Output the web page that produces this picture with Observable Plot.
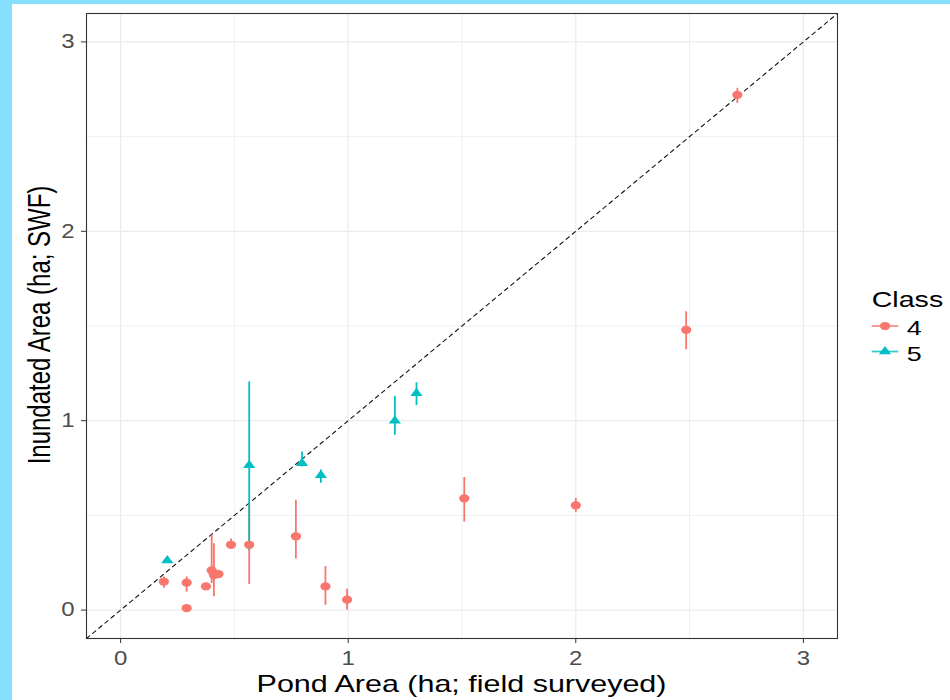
<!DOCTYPE html>
<html><head><meta charset="utf-8">
<script src="https://cdn.jsdelivr.net/npm/d3@7"></script>
<script src="https://cdn.jsdelivr.net/npm/@observablehq/plot@0.6"></script>
<style>
html,body{margin:0;padding:0;}
body{width:950px;height:700px;background:#86DFFE;position:relative;overflow:hidden;font-family:"Liberation Sans",Arial,sans-serif;}
#card{position:absolute;left:12px;top:4px;width:938px;height:696px;background:#fff;}
#chart{position:absolute;left:0;top:0;}
#overlay{position:absolute;left:0;top:0;pointer-events:none;}
</style>
</head><body>
<div id="card"><div id="chart"></div><svg id="overlay" width="938" height="696"></svg></div>
<script>
// ---- data ----
const axisLimits = [-0.15, 3.15];
const majorTicks = [0, 1, 2, 3];
const minorTicks = [0.5, 1.5, 2.5];
const xTitle = "Pond Area (ha; field surveyed)";
const yTitle = "Inundated Area (ha; SWF)";
const legendTitle = "Class";
const classes = ["4", "5"];
const classColors = ["#F8766D", "#00BFC4"];

const class4X  = [0.19, 0.29, 0.29, 0.375, 0.40, 0.41, 0.43, 0.485, 0.565, 0.77, 0.90, 0.995, 1.51, 2.00, 2.485, 2.71];
const class4Y  = [0.150, 0.145, 0.010, 0.125, 0.210, 0.185, 0.190, 0.345, 0.345, 0.390, 0.125, 0.055, 0.590, 0.553, 1.480, 2.720];
const class4Lo = [0.115, 0.095, 0.000, 0.110, 0.140, 0.070, 0.170, 0.320, 0.135, 0.270, 0.025, 0.000, 0.465, 0.515, 1.375, 2.675];
const class4Hi = [0.175, 0.175, 0.020, 0.140, 0.395, 0.350, 0.210, 0.375, 0.550, 0.580, 0.230, 0.110, 0.700, 0.590, 1.575, 2.755];

const class5X  = [0.205, 0.565, 0.797, 0.88, 1.205, 1.30];
const class5Y  = [0.262, 0.765, 0.775, 0.712, 1.000, 1.145];
const class5Lo = [0.255, 0.315, 0.755, 0.670, 0.923, 1.080];
const class5Hi = [0.270, 1.205, 0.835, 0.740, 1.128, 1.200];

const toRows = (xs, ys, lo, hi, cls) => xs.map((x, i) => ({x, y: ys[i], lo: lo[i], hi: hi[i], cls}));
const rows4 = toRows(class4X, class4Y, class4Lo, class4Hi, "4");
const rows5 = toRows(class5X, class5Y, class5Lo, class5Hi, "5");
const allRows = rows4.concat(rows5);

const plot = Plot.plot({
  width: 938,
  height: 696,
  marginLeft: 74,
  marginRight: 113,
  marginTop: 9,
  marginBottom: 62,
  style: {fontFamily: '"Liberation Sans", Arial, sans-serif', color: "#333", background: "transparent"},
  x: {domain: axisLimits},
  y: {domain: axisLimits},
  color: {domain: classes, range: classColors},
  marks: [
    Plot.gridX(minorTicks, {stroke: "#EBEBEB", strokeOpacity: 1, strokeWidth: 0.8}),
    Plot.gridY(minorTicks, {stroke: "#EBEBEB", strokeOpacity: 1, strokeWidth: 0.8}),
    Plot.gridX(majorTicks, {stroke: "#EBEBEB", strokeOpacity: 1, strokeWidth: 1.2}),
    Plot.gridY(majorTicks, {stroke: "#EBEBEB", strokeOpacity: 1, strokeWidth: 1.2}),
    Plot.line(axisLimits, {x: d => d, y: d => d, stroke: "#111", strokeWidth: 1.1, strokeDasharray: "4,4"}),
    Plot.ruleX(allRows, {x: "x", y1: "lo", y2: "hi", stroke: "cls", strokeWidth: 1.8}),
    Plot.dot(rows4, {x: "x", y: "y", fill: "cls", r: 4.1, symbol: "circle"}),
    Plot.dot(rows5, {x: "x", y: "y", fill: "cls", r: 3.5, symbol: "triangle"}),
    Plot.frame({stroke: "#333", strokeWidth: 1.1}),
    Plot.axisX({ticks: majorTicks, tickSize: 5, tickPadding: 7, fontSize: 20, fill: "#4D4D4D", label: null, tickFormat: d3.format("d")}),
    Plot.axisY({ticks: majorTicks, tickSize: 5, tickPadding: 7, fontSize: 20, fill: "#4D4D4D", label: null, tickFormat: d3.format("d")})
  ]
});
document.getElementById("chart").appendChild(plot);

// the reference is horizontally stretched: widen glyphs and point symbols to match
plot.querySelectorAll('g[aria-label="x-axis tick label"] text, g[aria-label="y-axis tick label"] text').forEach(t => {
  const tr = t.getAttribute("transform") || "";
  t.setAttribute("transform", tr + " scale(1.2,1)");
});
plot.querySelectorAll('g[aria-label="dot"] circle').forEach(c => {
  const cx = +c.getAttribute("cx") || 0, cy = +c.getAttribute("cy") || 0;
  const tr = c.getAttribute("transform") || "";
  c.setAttribute("transform", `${tr} translate(${cx},${cy}) scale(1.25,1) translate(${-cx},${-cy})`);
});
plot.querySelectorAll('g[aria-label="dot"] path').forEach(p => {
  const tr = p.getAttribute("transform") || "";
  p.setAttribute("transform", tr + " scale(1.3,1)");
});

// ---- axis titles and legend ----
const ov = d3.select("#overlay");
ov.append("text").text(xTitle)
  .attr("transform", "translate(449.5,687.7) scale(1.27,1)")
  .attr("text-anchor", "middle").attr("font-size", 24).attr("fill", "#000");
ov.append("text").text(yTitle)
  .attr("transform", "translate(38,321) scale(1.27,1) rotate(-90)")
  .attr("text-anchor", "middle").attr("font-size", 24).attr("fill", "#000");

ov.append("text").text(legendTitle)
  .attr("transform", "translate(859.7,302.7) scale(1.3,1)")
  .attr("font-size", 22).attr("fill", "#000");
const keyY = [322, 347.5];
classes.forEach((c, i) => {
  const g = ov.append("g").attr("transform", `translate(0,${keyY[i]})`);
  g.append("line").attr("x1", 859.7).attr("x2", 886.3).attr("y1", 0).attr("y2", 0)
    .attr("stroke", classColors[i]).attr("stroke-width", 1.8).attr("stroke-opacity", 0.8);
  const r = i === 0 ? 4.1 : 3.5;
  g.append("path").attr("d", d3.symbol(i === 0 ? d3.symbolCircle : d3.symbolTriangle, Math.PI * r * r)())
    .attr("transform", `translate(873,0) scale(${i === 0 ? 1.25 : 1.3},1)`).attr("fill", classColors[i]);
  g.append("text").text(c).attr("transform", "translate(894.7,9) scale(1.28,1)")
    .attr("font-size", 21).attr("fill", "#000");
});
</script>
</body></html>
